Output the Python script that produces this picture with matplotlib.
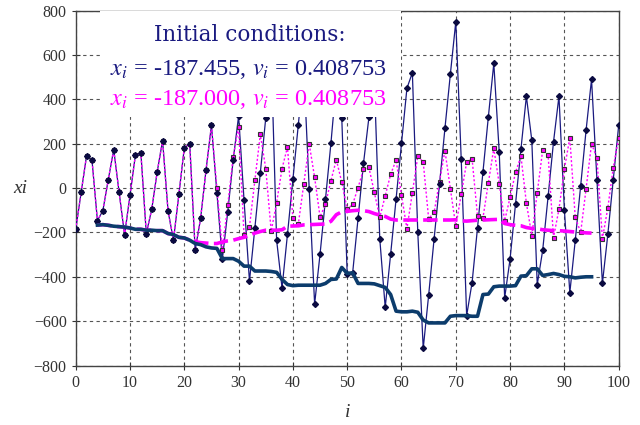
import numpy as np
import matplotlib
matplotlib.use("Agg")
import matplotlib.pyplot as plt
from matplotlib.patches import Rectangle

plt.rcParams['font.family'] = ['Liberation Serif', 'DejaVu Serif']
plt.rcParams['mathtext.fontset'] = 'stix'

# ---- data ----
i_vals = list(range(0, 101))
x_a = [-186, -20, 146, 125, -147, -102, 38, 173, -20, -211,
       -32, 150, 159, -205, -96, 72, 214, -102, -235, -29,
       182, 199, -280, -137, 81, 283, -21, -322, -107, 126,
       325, -54, -420, -179, 69, 316, 600, -235, -450, -208,
       39, 286, 540, -3, -523, -298, -50, 201, 480, 317,
       -388, -383, -137, 111, 319, 480, -229, -538, -298, -50,
       201, 450, 520, -200, -723, -483, -230, 17, 269, 514,
       750, 129, -575, -426, -179, 72, 322, 562, 162, -495,
       -319, -72, 176, 414, 215, -435, -281, -38, 209, 414,
       -99, -472, -236, 11, 262, 490, 35, -430, -209, 38, 283]
x_b = [-186, -20, 146, 125, -147, -102, 38, 173, -20, -211,
       -32, 150, 159, -205, -96, 72, 214, -102, -235, -29,
       182, 199, -280, -137, 81, 283, 1, -277, -77, 140,
       277, -212, -175, 36, 242, 88, -194, -66, 88, 185,
       -137, -162, 18, 200, 48, -131, -72, 33, 128, 26,
       -96, -74, 2, 84, 93, -20, -132, -35, 62, 126,
       -32, -183, -21, 144, 117, -138, -110, 29, 169, -3,
       -172, -29, 117, 132, -126, -135, 24, 179, 18, -147,
       -42, 71, 144, -68, -214, -21, 171, 150, -224, -95,
       86, 227, -132, -200, -2, 200, 134, -229, -89, 92, 227]

avg_i = list(range(4, 96))
avg_a = [-167, -165, -168, -172, -174, -176, -180, -186, -186, -190,
         -190, -192, -192, -205, -210, -222, -225, -235, -250, -255,
         -265, -270, -272, -318, -318, -318, -330, -352, -352, -374,
         -374, -374, -376, -380, -412, -435, -440, -438, -438, -438,
         -438, -438, -430, -412, -410, -358, -385, -382, -430, -430,
         -430, -432, -440, -448, -480, -555, -558, -558, -555, -560,
         -595, -608, -608, -608, -608, -578, -575, -575, -575, -578,
         -578, -480, -478, -445, -442, -442, -442, -440, -397, -395,
         -364, -364, -394, -390, -385, -390, -398, -400, -405, -402,
         -400, -400]
avg_b = [-167, -165, -168, -172, -174, -176, -180, -186, -186, -190,
         -190, -192, -192, -205, -210, -222, -225, -235, -242, -246,
         -248, -250, -250, -243, -238, -235, -228, -222, -214, -203,
         -196, -190, -190, -190, -188, -172, -171, -170, -166, -165,
         -164, -163, -162, -150, -120, -107, -105, -102, -100, -102,
         -106, -115, -122, -128, -140, -144, -144, -144, -144, -144,
         -144, -144, -144, -144, -144, -144, -143, -148, -149, -147,
         -145, -144, -143, -142, -141, -160, -165, -168, -170, -178,
         -182, -183, -188, -190, -192, -192, -194, -196, -198, -200,
         -202, -203]

xticks = list(range(0, 101, 10))
yticks = list(range(-800, 801, 200))

navy = '#1a1a80'
mag = '#ff00ff'

fig = plt.figure(figsize=(6.4, 4.25), dpi=100)
ax = fig.add_axes([0.1183, 0.140, 0.8484, 0.835])

ax.plot(i_vals, x_a, color=navy, lw=0.9, zorder=3)
ax.plot(i_vals, x_b, color=mag, lw=1.0, ls=(0, (1.5, 1.5)), zorder=4)
ax.plot(i_vals, x_b, ls='none', marker='s', ms=3.2, mfc=mag, mec='#333333',
        mew=0.8, zorder=5)
ax.plot(i_vals, x_a, ls='none', marker='D', ms=3.0, mfc='#0a0a40', mec='#0a0a40',
        zorder=6)
ax.plot(avg_i, avg_b, color=mag, lw=2.6, ls=(0, (4, 1.5)), zorder=6.5)
ax.plot(avg_i, avg_a, color='#0c3c6c', lw=2.6, zorder=7)

# white box behind the annotation
ax.add_patch(Rectangle((4.5, 322), 55.5, 478, facecolor='white', edgecolor='none',
                       zorder=8))
ax.text(32.1, 690, 'Initial conditions:', color=navy, fontsize=15.5,
        family='DejaVu Serif', ha='center', va='center', zorder=9)
ax.text(31.7, 535, r'$x_i$ = -187.455, $v_i$ = 0.408753', color=navy, fontsize=17.5,
        ha='center', va='center', zorder=9)
ax.text(31.7, 400, r'$x_i$ = -187.000, $v_i$ = 0.408753', color=mag, fontsize=17.5,
        ha='center', va='center', zorder=9)

ax.set_xlim(0, 100)
ax.set_ylim(-800, 800)
ax.set_xticks(xticks)
ax.set_yticks(yticks)
ax.tick_params(direction='inout', length=6, width=0.8, labelsize=11.5,
               colors='#333333')
ax.grid(True, color='#555555', ls=(0, (3, 3)), lw=0.8, zorder=1)
ax.set_axisbelow(True)
for s in ax.spines.values():
    s.set_color('#444444')
    s.set_linewidth(1.0)

ax.set_xlabel('i', fontsize=14, fontstyle='italic', color='#333333', labelpad=10)
ax.set_ylabel('xi', fontsize=14, fontstyle='italic', color='#333333', rotation=0,
              labelpad=10, va='center')

fig.savefig('out.png', dpi=100)
